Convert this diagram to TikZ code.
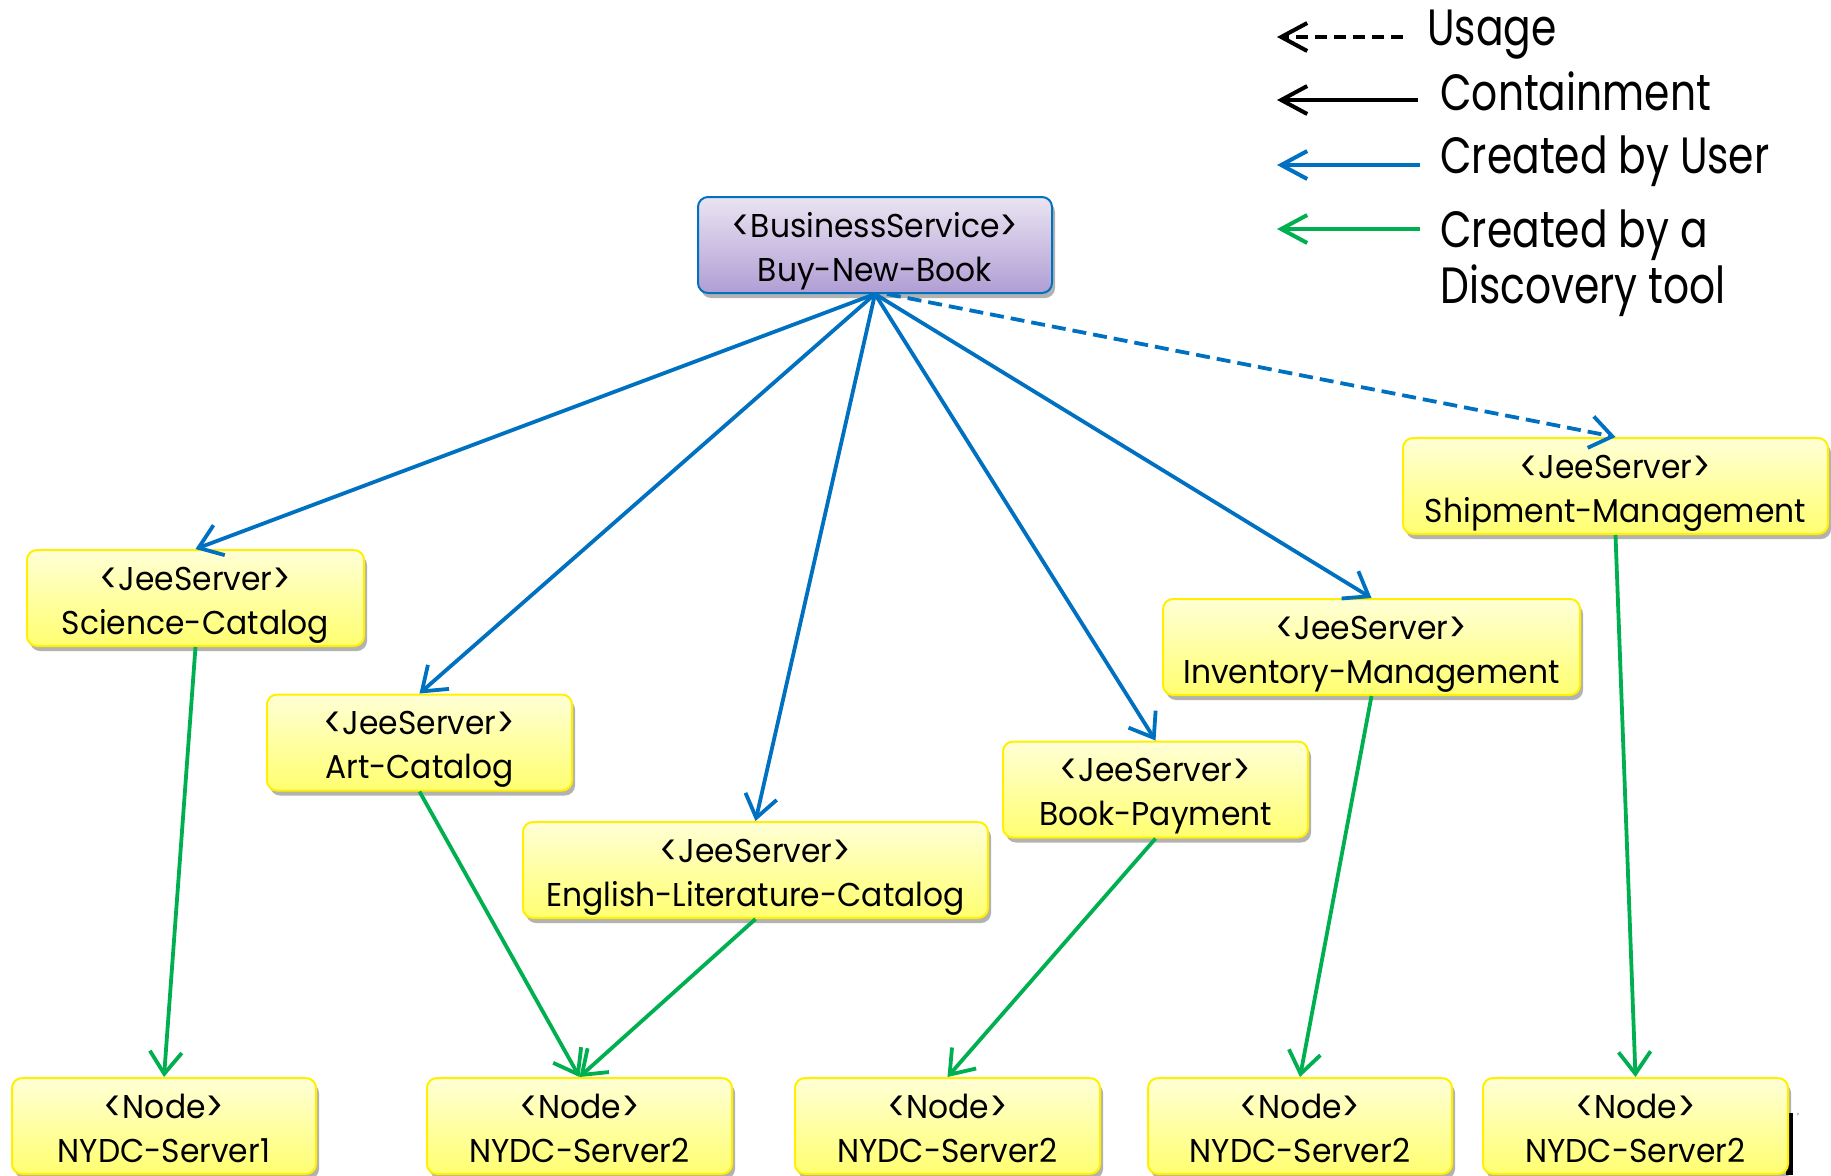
\documentclass[tikz,border=0pt]{standalone}
\usepackage{fontspec}
\usepackage{graphicx}
\setmainfont{Poppins}[FakeStretch=0.95]
\newfontfamily\legfont{Poppins}[FakeStretch=0.8]
\usetikzlibrary{arrows.meta,shadows,calc}
\definecolor{ublue}{RGB}{0,112,192}
\definecolor{dgreen}{RGB}{0,176,80}
\definecolor{ytop}{RGB}{255,255,214}
\definecolor{ybot}{RGB}{255,255,112}
\definecolor{ybord}{RGB}{255,240,0}
\definecolor{ptop}{RGB}{234,228,242}
\definecolor{pbot}{RGB}{176,158,212}
\newcommand\lab{\raisebox{-0.1em}{\scalebox{1.1}[1.3]{<}}}
\newcommand\rab{\raisebox{-0.1em}{\scalebox{1.1}[1.3]{>}}}
\tikzset{
  box/.style={rounded corners=5pt, draw=ybord, line width=1pt,
    top color=ytop, bottom color=ybot, minimum height=48pt, inner sep=0pt,
    align=center, font=\fontsize{16.5}{22}\selectfont,
    text height=41pt, text depth=5pt,
    drop shadow={shadow xshift=1.5pt, shadow yshift=-2.5pt, opacity=0.3, fill=black}},
  bsbox/.style={box, draw=ublue, top color=ptop, bottom color=pbot},
  tip/.style={-{Straight Barb[length=11pt,width=16pt]}},
  userarr/.style={tip, draw=ublue, line width=1.9pt},
  usagearr/.style={tip, draw=ublue, line width=1.9pt, dash pattern=on 7pt off 3.5pt},
  discarr/.style={tip, draw=dgreen, line width=1.9pt},
  legarr/.style={-{Straight Barb[length=13pt,width=14pt]}, line width=2pt},
  legtext/.style={anchor=base west, inner sep=0pt, font=\legfont\fontsize{25.5}{28}\selectfont},
}
\begin{document}
\begin{tikzpicture}[x=0.5pt,y=-0.5pt]
\useasboundingbox (0,0) rectangle (1831,1175);
% legend
\coordinate (l1a) at (1403,37);  \coordinate (l1b) at (1277,37);
\coordinate (l2a) at (1418,100); \coordinate (l2b) at (1277,100);
\coordinate (l3a) at (1420,165); \coordinate (l3b) at (1277,165);
\coordinate (l4a) at (1420,229); \coordinate (l4b) at (1277,229);
\draw[legarr, black, dash pattern=on 6pt off 3.5pt] (l1a) -- (l1b);
\draw[legarr, black] (l2a) -- (l2b);
\draw[legarr, ublue] (l3a) -- (l3b);
\draw[legarr, dgreen] (l4a) -- (l4b);
\node[legtext] (t1) at (1427,45) {Usage};
\node[legtext] (t2) at (1440,110) {Containment};
\node[legtext] (t3) at (1440,173) {Created by User};
\node[legtext] (t4) at (1440,247) {Created by a};
\node[legtext] (t5) at (1440,303) {Discovery tool};
% nodes
\node[bsbox, minimum width=177pt] (bs) at (875,245) {\lab BusinessService\rab\\Buy-New-Book};
\node[box, minimum width=168.5pt] (sci) at (195.5,598) {\lab JeeServer\rab\\Science-Catalog};
\node[box, minimum width=152.5pt] (art) at (419.5,742.5) {\lab JeeServer\rab\\Art-Catalog};
\node[box, minimum width=232.5pt] (eng) at (755.5,870) {\lab JeeServer\rab\\English-Literature-Catalog};
\node[box, minimum width=152.5pt] (pay) at (1155.5,789.5) {\lab JeeServer\rab\\Book-Payment};
\node[box, minimum width=208.5pt] (inv) at (1371.5,647) {\lab JeeServer\rab\\Inventory-Management};
\node[box, minimum width=212.5pt] (ship) at (1615.5,486) {\lab JeeServer\rab\\Shipment-Management};
\fill[black] (1786,1113) rectangle (1793,1175);
\node[inner sep=0pt, text=gray, font=\fontsize{3}{3}\selectfont] (reg) at (1798,1115) {®};
\node[box, minimum width=152pt] (n1) at (164,1126) {\lab Node\rab\\NYDC-Server1};
\node[box, minimum width=152.5pt] (n2) at (579.5,1126) {\lab Node\rab\\NYDC-Server2};
\node[box, minimum width=152.5pt] (n3) at (947.5,1126) {\lab Node\rab\\NYDC-Server2};
\node[box, minimum width=152pt] (n4) at (1300,1126) {\lab Node\rab\\NYDC-Server2};
\node[box, minimum width=152.5pt] (n5) at (1635.5,1126) {\lab Node\rab\\NYDC-Server2};
% connectors
\draw[userarr] (bs.south) -- (sci.north);
\draw[userarr] (bs.south) -- (art.north);
\draw[userarr] (bs.south) -- (eng.north);
\draw[userarr] (bs.south) -- (pay.north);
\draw[userarr] (bs.south) -- (inv.north);
\draw[usagearr] ([xshift=6pt]bs.south) -- (ship.north);
\draw[discarr] (sci.south) -- (n1.north);
\draw[discarr] (art.south) -- (n2.north);
\draw[discarr] (eng.south) -- (n2.north);
\draw[discarr] (pay.south) -- (n3.north);
\draw[discarr] (inv.south) -- (n4.north);
\draw[discarr] (ship.south) -- (n5.north);
\end{tikzpicture}
\end{document}
